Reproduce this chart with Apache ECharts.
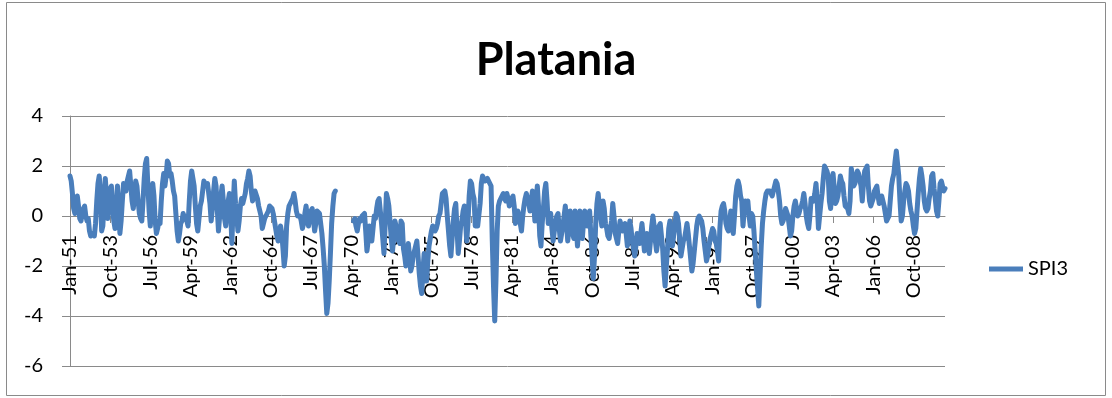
<!DOCTYPE html>
<html>
<head>
<meta charset="utf-8">
<title>Platania SPI3</title>
<script src="https://cdn.jsdelivr.net/npm/echarts@6/dist/echarts.min.js"></script>
<style>
  html, body { margin: 0; padding: 0; background: #ffffff; }
  #chart { width: 1112px; height: 398px; }
</style>
</head>
<body>
<div id="chart"></div>
<script>
// Month names used to build the monthly category labels (Jan-51 ... Dec-10)
const monthNames = ['Jan','Feb','Mar','Apr','May','Jun','Jul','Aug','Sep','Oct','Nov','Dec'];
const firstYear = 1951;
const lastYear = 2010;

// Y-axis range and step
const yMin = -6;
const yMax = 4;
const yStep = 2;

// Every 33rd month carries a tick label
const labelEvery = 33;

// SPI3 monthly values, one row per year (null = no data)
const spi3 = [
  1.6, 1.4, 0.9, 0.3, 0.1, 0.5, 0.8, 0.4, -0.1, -0.2, 0.1, 0.3,        // 1951
  0.4, 0.0, -0.2, -0.1, -0.6, -0.8, -0.8, -0.7, -0.8, -0.3, 0.6, 1.3,  // 1952
  1.6, 1.0, -0.6, -0.4, 0.6, 1.5, 0.8, -0.1, 0.4, 1.1, 1.2, 0.3,       // 1953
  -0.2, -0.5, 0.4, 1.2, 0.3, -0.7, -0.2, 0.6, 1.3, 1.2, 1.0, 1.4,      // 1954
  1.6, 1.8, 1.2, 0.6, 0.3, 0.8, 1.4, 1.2, 0.6, 0.1, -0.1, -0.2,        // 1955
  0.6, 1.5, 2.1, 2.3, 1.2, 0.2, -0.4, 0.5, 1.3, 0.8, -0.2, -0.7,       // 1956
  -0.5, -0.2, -0.3, 0.6, 1.3, 1.7, 1.2, 1.6, 2.2, 2.1, 1.6, 1.7,       // 1957
  1.4, 1.0, 0.8, 0.1, -0.6, -1.0, -0.7, -0.3, -0.2, 0.1, -0.1, 0.0,    // 1958
  -0.2, -0.4, 0.6, 1.4, 1.8, 1.5, 1.2, 0.4, -0.3, -0.6, -0.1, 0.4,     // 1959
  0.6, 1.0, 1.4, 1.3, 1.2, 1.3, 1.3, 0.5, -0.2, 0.3, 1.0, 1.5,         // 1960
  1.2, 0.3, -0.6, 0.0, 0.8, 1.2, 0.6, -0.1, -0.4, 0.1, 0.6, 0.9,       // 1961
  0.2, -1.1, 0.3, 1.4, 0.5, 0.0, -0.6, -0.2, 0.4, 0.7, 0.5, 0.5,       // 1962
  0.9, 1.3, 1.5, 1.8, 1.6, 1.0, 0.6, 0.8, 1.0, 1.0, 0.7, 0.4,          // 1963
  0.4, 0.0, -0.5, -0.3, -0.1, 0.0, 0.1, 0.2, 0.4, 0.4, 0.3, 0.1,       // 1964
  -0.2, -0.5, -0.8, -1.0, -0.7, -0.4, -0.7, -1.3, -2.0, -1.6, -0.4, 0.1, // 1965
  0.4, 0.5, 0.6, 0.7, 0.9, 0.6, 0.2, 0.0, 0.0, 0.0, -0.2, -0.5,        // 1966
  -0.3, 0.1, 0.4, -0.1, -0.4, -0.1, 0.2, 0.3, -0.1, -0.6, -0.3, 0.2,   // 1967
  0.2, 0.1, -0.3, -0.7, -1.3, -2.0, -3.0, -3.9, -3.5, -2.6, -1.5, -0.3, // 1968
  0.4, 0.9, 1.0, null, null, null, null, null, null, null, null, null, // 1969
  null, null, null, null, null, -0.2, -0.1, -0.4, -0.6, -0.3, -0.1, -0.2, // 1970
  0.0, 0.0, 0.1, -0.6, -1.4, -1.0, -0.4, -0.7, -1.0, -0.5, 0.0, -0.1,  // 1971
  0.3, 0.6, 0.7, 0.2, -0.3, -0.9, -1.5, -0.3, 0.9, 0.7, 0.4, 0.4,      // 1972
  -0.9, -1.4, -0.9, -0.2, -0.4, -0.8, -1.0, -1.1, -0.2, -0.3, -1.3, -1.6, // 1973
  -2.0, -1.8, -1.1, -1.6, -2.2, -2.0, -1.6, -1.4, -1.2, -1.0, -1.6, -2.3, // 1974
  -2.8, -3.1, -2.2, -1.5, -2.0, -2.6, -1.8, -1.2, -0.9, -0.6, -0.4, -0.5, // 1975
  -0.6, -0.5, -0.3, 0.0, 0.1, 0.5, 0.9, 0.9, 1.0, 0.7, 0.0, -0.6,      // 1976
  -1.2, -1.6, -0.9, -0.2, 0.3, 0.5, -0.5, -1.5, -1.0, -0.4, -0.2, 0.2, // 1977
  0.4, -0.2, -1.0, -0.3, 0.8, 1.4, 1.3, 0.9, 0.7, -0.4, -0.4, -0.4,    // 1978
  -0.4, 0.5, 1.3, 1.6, 1.5, 1.4, 1.4, 1.5, 1.4, 1.3, 1.2, -1.0,        // 1979
  -2.8, -4.2, -2.6, -0.6, 0.4, 0.6, 0.7, 0.8, 0.9, 0.7, 0.6, 0.9,      // 1980
  0.7, 0.4, 0.5, 0.7, 0.8, 0.4, -0.3, 0.1, 0.2, 0.0, -0.3, -0.6,       // 1981
  0.0, 0.4, 0.7, 0.9, 0.7, 0.5, 0.2, 0.6, 1.0, 0.5, -0.2, 0.5,         // 1982
  1.2, 0.4, -0.8, -1.2, -0.3, 0.3, 1.0, 1.3, 0.6, -0.3, -0.1, 0.1,     // 1983
  -0.5, -1.0, -0.6, -0.3, 0.0, 0.1, -0.5, -1.0, -0.7, -0.4, 0.0, 0.4,  // 1984
  -0.3, -1.0, -0.5, 0.2, -0.2, -0.7, -0.9, 0.2, -0.4, -1.2, -0.5, 0.2, // 1985
  -0.4, -0.9, -0.2, 0.2, -0.1, -0.4, 0.0, 0.2, -0.8, -1.6, -2.5, -1.6, // 1986
  -0.3, 0.5, 0.9, 0.4, 0.0, -0.4, 0.6, 0.3, -0.3, -0.5, -0.8, -0.9,    // 1987
  -0.9, -0.2, 0.5, 0.0, -0.7, -0.9, -1.1, -0.6, -0.2, -0.4, -0.6, -0.4, // 1988
  -0.3, -0.7, -1.2, -0.8, -0.2, -0.5, -1.0, -1.3, -1.6, -1.2, -0.7, -0.9, // 1989
  -1.1, -0.7, -0.3, -0.8, -1.4, -1.0, -0.7, -1.1, -1.5, -1.0, -0.4, 0.0, // 1990
  -0.4, -1.0, -1.4, -1.0, -0.4, -0.3, -0.8, -1.3, -2.2, -2.8, -2.0, -1.3, // 1991
  -0.5, -0.2, -0.7, -1.2, -0.8, -0.4, 0.1, 0.0, -0.3, -0.9, -1.6, -1.3, // 1992
  -1.0, -0.9, -0.6, -0.3, -0.7, -1.2, -1.7, -2.2, -1.9, -1.4, -0.9, -0.4, // 1993
  -0.1, 0.0, -0.1, -0.2, -0.5, -1.0, -1.4, -1.8, -1.6, -1.2, -0.9, -0.7, // 1994
  -0.5, -0.6, -1.0, -1.1, -1.4, -1.8, -0.5, 0.2, 0.4, 0.5, 0.2, -0.3,  // 1995
  -0.5, -0.6, -0.2, 0.2, -0.3, -0.7, 0.0, 0.8, 1.2, 1.4, 1.2, 0.8,     // 1996
  0.6, -0.4, 0.2, 0.6, 0.3, 0.6, 0.0, -0.4, 0.1, 0.0, -0.6, -1.4,      // 1997
  -2.2, -2.9, -3.6, -2.4, -1.2, -0.3, 0.2, 0.6, 0.9, 1.0, 1.0, 1.0,    // 1998
  0.9, 0.8, 1.0, 1.2, 1.4, 1.3, 1.0, 0.6, 0.0, -0.3, -0.2, 0.0,        // 1999
  0.3, 0.3, 0.0, -0.4, -0.8, -0.6, 0.0, 0.4, 0.6, 0.3, 0.0, 0.1,       // 2000
  0.3, 0.4, 0.6, 0.9, 0.5, 0.0, -0.3, -0.5, 0.0, 0.7, 0.7, 0.6,        // 2001
  0.9, 1.3, 0.6, -0.5, 0.0, 0.5, 0.9, 1.5, 2.0, 1.9, 1.8, 1.6,         // 2002
  0.6, 0.3, 1.0, 1.7, 1.1, 0.5, 0.6, 0.8, 1.2, 1.6, 1.4, 1.3,          // 2003
  0.8, 0.4, 0.4, 0.3, 0.1, 0.6, 1.9, 1.6, 1.2, 1.3, 1.6, 1.8,          // 2004
  1.7, 1.7, 1.2, 0.6, 1.3, 1.8, 1.9, 2.0, 1.2, 0.6, 0.4, 0.4,          // 2005
  0.7, 1.0, 1.1, 1.2, 0.8, 0.5, 0.6, 0.8, 0.6, 0.4, 0.1, -0.2,         // 2006
  -0.1, 0.0, 0.6, 1.2, 1.5, 1.7, 2.2, 2.6, 2.1, 1.6, 0.6, -0.2,        // 2007
  0.0, 0.6, 1.0, 1.3, 1.2, 1.0, 0.5, 0.2, 0.0, -0.4, -0.7, -0.5,       // 2008
  0.2, 0.9, 1.5, 1.9, 1.6, 1.2, 0.6, 0.3, 0.2, 0.3, 0.7, 1.0,          // 2009
  1.6, 1.7, 1.1, 0.7, 0.2, 0.0, 0.6, 1.3, 1.4, 1.2, 1.0, 1.1           // 2010
];

// Category labels such as "Jan-51"
const categories = [];
for (let y = firstYear; y <= lastYear; y++) {
  for (const m of monthNames) {
    categories.push(m + '-' + String(y % 100).padStart(2, '0'));
  }
}

const axisGray = '#8a8a8a';
const lineBlue = '#4A7EBB';
const fontFamily = 'Lato, "Open Sans", sans-serif';

// Plot box in pixels
const plotLeft = 70, plotRight = 945, plotTop = 116, plotBottom = 366;
const chartW = 1112, chartH = 398;
// The category axis sits on the zero line: shift it up from the plot bottom
const zeroShift = (plotBottom - plotTop) * (0 - yMin) / (yMax - yMin);

const chart = echarts.init(document.getElementById('chart'), null, { renderer: 'canvas' });

chart.setOption({
  animation: false,
  backgroundColor: '#ffffff',
  title: {
    text: 'Platania',
    left: 'center',
    top: 33,
    textStyle: { fontFamily: fontFamily, fontWeight: 'bold', fontSize: 45, color: '#000000' }
  },
  legend: {
    data: ['SPI3'],
    left: 984,
    top: 254,
    icon: 'rect',
    itemWidth: 34,
    itemHeight: 5,
    itemGap: 6,
    textStyle: { fontFamily: fontFamily, fontSize: 20, color: '#000000' }
  },
  grid: {
    left: plotLeft,
    right: chartW - plotRight,
    top: plotTop,
    bottom: chartH - plotBottom,
    containLabel: false,
    outerBoundsMode: 'none'
  },
  xAxis: {
    type: 'category',
    data: categories,
    boundaryGap: false,
    offset: -zeroShift,
    axisLine: { onZero: false, lineStyle: { color: axisGray, width: 1 } },
    axisTick: { show: true, interval: labelEvery - 1, length: 7, lineStyle: { color: axisGray } },
    axisLabel: {
      interval: labelEvery - 1,
      rotate: 90,
      margin: 19,
      fontFamily: fontFamily,
      fontSize: 20,
      color: '#000000'
    },
    splitLine: { show: false }
  },
  yAxis: {
    type: 'value',
    min: yMin,
    max: yMax,
    interval: yStep,
    axisLine: { show: true, lineStyle: { color: axisGray, width: 1 } },
    axisTick: { show: true, length: 8, lineStyle: { color: axisGray } },
    axisLabel: { margin: 27, fontFamily: fontFamily, fontSize: 20, color: '#000000' },
    splitLine: { show: true, lineStyle: { color: axisGray, width: 1 } }
  },
  series: [{
    name: 'SPI3',
    type: 'line',
    data: spi3,
    symbol: 'none',
    connectNulls: false,
    color: lineBlue,
    lineStyle: { color: lineBlue, width: 5, join: 'round', cap: 'round' }
  }],
  graphic: [{
    type: 'rect',
    shape: { x: 6.5, y: 2.5, width: 1099, height: 393 },
    style: { fill: null, stroke: axisGray, lineWidth: 1 },
    silent: true,
    z: -1
  }]
});
</script>
</body>
</html>
